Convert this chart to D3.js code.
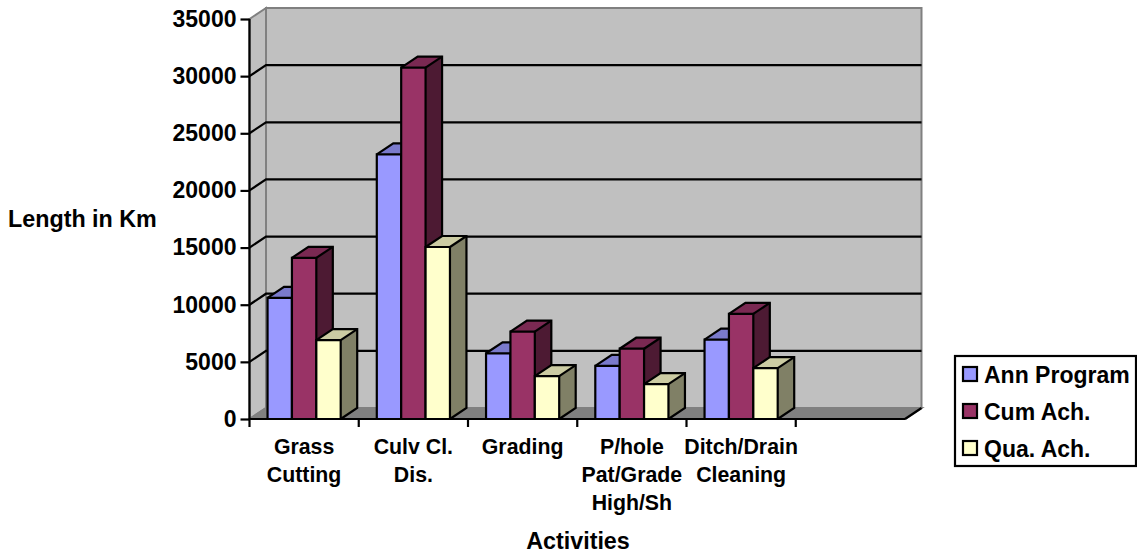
<!DOCTYPE html>
<html>
<head>
<meta charset="utf-8">
<script src="https://cdn.jsdelivr.net/npm/d3@7"></script>
<style>
  html, body { margin: 0; padding: 0; background: #fff; }
  svg { display: block; }
  text { font-family: "Liberation Sans", Arial, sans-serif; font-weight: bold; fill: #000; }
</style>
</head>
<body>
<div id="chart"></div>
<script>
const categories = ["Grass Cutting", "Culv Cl. Dis.", "Grading", "P/hole Pat/Grade High/Sh", "Ditch/Drain Cleaning", ""];
const categoryLines = [["Grass", "Cutting"], ["Culv Cl.", "Dis."], ["Grading"], ["P/hole", "Pat/Grade", "High/Sh"], ["Ditch/Drain", "Cleaning"], []];
const seriesNames = ["Ann Program", "Cum Ach.", "Qua. Ach."];
const annProgram = [10600, 23150, 5750, 4650, 6950];
const cumAch = [14100, 30750, 7650, 6150, 9200];
const quaAch = [6900, 15050, 3750, 3050, 4450];
const yTicks = [0, 5000, 10000, 15000, 20000, 25000, 30000, 35000];
const frontColors = ["#9999ff", "#993366", "#ffffcc"];
const topColors = ["#7a7acc", "#7a2952", "#cccca3"];
const sideColors = ["#5c5c99", "#4d1a33", "#808066"];

const width = 1137, height = 556;
const plotLeft = 249.5, plotRight = 905, plotBottom = 419, plotTop = 19;
const dx = 16.5, dy = -11;   // 3D depth offset

const svg = d3.select("#chart").append("svg")
    .attr("width", width)
    .attr("height", height);

const y = d3.scaleLinear().domain([0, 35000]).range([plotBottom, plotTop]);
const x = d3.scaleBand().domain(categories).range([plotLeft, plotRight]);
const barX = d3.scaleBand().domain(seriesNames).range([0, x.bandwidth()]).paddingOuter(0.74).paddingInner(0);

// back wall, side wall and floor
svg.append("polygon")
    .attr("points", [[plotLeft + dx, plotTop + dy], [plotRight + dx, plotTop + dy], [plotRight + dx, plotBottom + dy], [plotLeft + dx, plotBottom + dy]].join(" "))
    .attr("fill", "#c0c0c0").attr("stroke", "#808080").attr("stroke-width", 2);
svg.append("polygon")
    .attr("points", [[plotLeft, plotTop], [plotLeft + dx, plotTop + dy], [plotLeft + dx, plotBottom + dy], [plotLeft, plotBottom]].join(" "))
    .attr("fill", "#c0c0c0").attr("stroke", "#808080").attr("stroke-width", 2);
svg.append("polygon")
    .attr("points", [[plotLeft, plotBottom], [plotLeft + dx, plotBottom + dy], [plotRight + dx, plotBottom + dy], [plotRight, plotBottom]].join(" "))
    .attr("fill", "#808080").attr("stroke", "#808080").attr("stroke-width", 2);
svg.append("line")
    .attr("x1", plotRight).attr("y1", plotBottom).attr("x2", plotRight + dx).attr("y2", plotBottom + dy)
    .attr("stroke", "#000").attr("stroke-width", 2.2);

// gridlines, the top and bottom ones stay wall coloured
const inner = yTicks.slice(1, -1);
svg.selectAll(".grid").data(inner).join("polyline")
    .attr("class", "grid")
    .attr("points", d => [[plotLeft, y(d)], [plotLeft + dx, y(d) + dy], [plotRight + dx, y(d) + dy]].join(" "))
    .attr("fill", "none").attr("stroke", "#000").attr("stroke-width", 2.2);

// bars
const seriesValues = [annProgram, cumAch, quaAch];
const groups = svg.selectAll(".cat").data(categories.slice(0, 5)).join("g")
    .attr("class", "cat")
    .attr("transform", d => `translate(${x(d)},0)`);

groups.each(function (cat, c) {
    const g = d3.select(this);
    seriesNames.forEach((name, s) => {
        const x0 = barX(name), x1 = x0 + barX.bandwidth();
        const yv = y(seriesValues[s][c]);
        g.append("polygon")
            .attr("points", [[x1, yv], [x1 + dx, yv + dy], [x1 + dx, plotBottom + dy], [x1, plotBottom]].join(" "))
            .attr("fill", sideColors[s]);
        g.append("polygon")
            .attr("points", [[x0, yv], [x0 + dx, yv + dy], [x1 + dx, yv + dy], [x1, yv]].join(" "))
            .attr("fill", topColors[s]);
        g.append("rect")
            .attr("x", x0).attr("y", yv)
            .attr("width", barX.bandwidth()).attr("height", plotBottom - yv)
            .attr("fill", frontColors[s]);
        g.selectAll(null).data([
            [[x0, plotBottom], [x0, yv], [x1, yv], [x1, plotBottom]],
            [[x0, yv], [x0 + dx, yv + dy], [x1 + dx, yv + dy], [x1 + dx, plotBottom + dy], [x1, plotBottom]],
            [[x1, yv], [x1 + dx, yv + dy]]
        ]).join("polyline")
            .attr("points", d => d.join(" "))
            .attr("fill", "none").attr("stroke", "#000").attr("stroke-width", 2.2);
    });
});

// y axis
const yAxis = svg.append("g")
    .attr("transform", `translate(${plotLeft},0)`)
    .call(d3.axisLeft(y).tickValues(yTicks).tickFormat(d3.format("d")).tickSize(9).tickPadding(4));
yAxis.selectAll("text").attr("font-size", 23);
yAxis.selectAll("line").attr("stroke", "#000").attr("stroke-width", 2.2);
yAxis.select(".domain").attr("stroke", "#000").attr("stroke-width", 2.2).attr("d", `M0,${plotTop}V${plotBottom}`);

// x axis, ticks sit on the band edges, none at the far end
svg.append("line")
    .attr("x1", plotLeft).attr("x2", plotRight).attr("y1", plotBottom).attr("y2", plotBottom)
    .attr("stroke", "#000").attr("stroke-width", 2.2);
svg.selectAll(".xtick").data(categories.slice(0, 5)).join("line")
    .attr("class", "xtick")
    .attr("x1", d => x(d) + x.bandwidth()).attr("x2", d => x(d) + x.bandwidth())
    .attr("y1", plotBottom).attr("y2", plotBottom + 8)
    .attr("stroke", "#000").attr("stroke-width", 2.2);
svg.append("line")
    .attr("x1", plotLeft).attr("x2", plotLeft).attr("y1", plotBottom).attr("y2", plotBottom + 8)
    .attr("stroke", "#000").attr("stroke-width", 2.2);

svg.selectAll(".xlabel").data(categories).join("text")
    .attr("class", "xlabel")
    .attr("text-anchor", "middle")
    .attr("font-size", 21.3)
    .each(function (d, i) {
        d3.select(this).selectAll("tspan").data(categoryLines[i]).join("tspan")
            .attr("x", x(d) + x.bandwidth() / 2)
            .attr("y", (t, j) => 454 + j * 28)
            .text(t => t);
    });

// axis titles
svg.append("text").attr("x", 8).attr("y", 227).attr("font-size", 23.3).text("Length in Km");
svg.append("text").attr("x", 578).attr("y", 549).attr("text-anchor", "middle").attr("font-size", 23.3).text("Activities");

// legend
svg.append("rect")
    .attr("x", 955).attr("y", 356).attr("width", 181).attr("height", 110)
    .attr("fill", "#fff").attr("stroke", "#000").attr("stroke-width", 2.2);
const legendItem = svg.selectAll(".legend").data(seriesNames).join("g")
    .attr("class", "legend")
    .attr("transform", (d, i) => `translate(963,${367 + i * 37})`);
legendItem.append("rect")
    .attr("width", 14).attr("height", 14)
    .attr("fill", (d, i) => frontColors[i])
    .attr("stroke", "#000").attr("stroke-width", 2.2);
legendItem.append("text")
    .attr("x", 21).attr("y", 16)
    .attr("font-size", 23)
    .text(d => d);
</script>
</body>
</html>
